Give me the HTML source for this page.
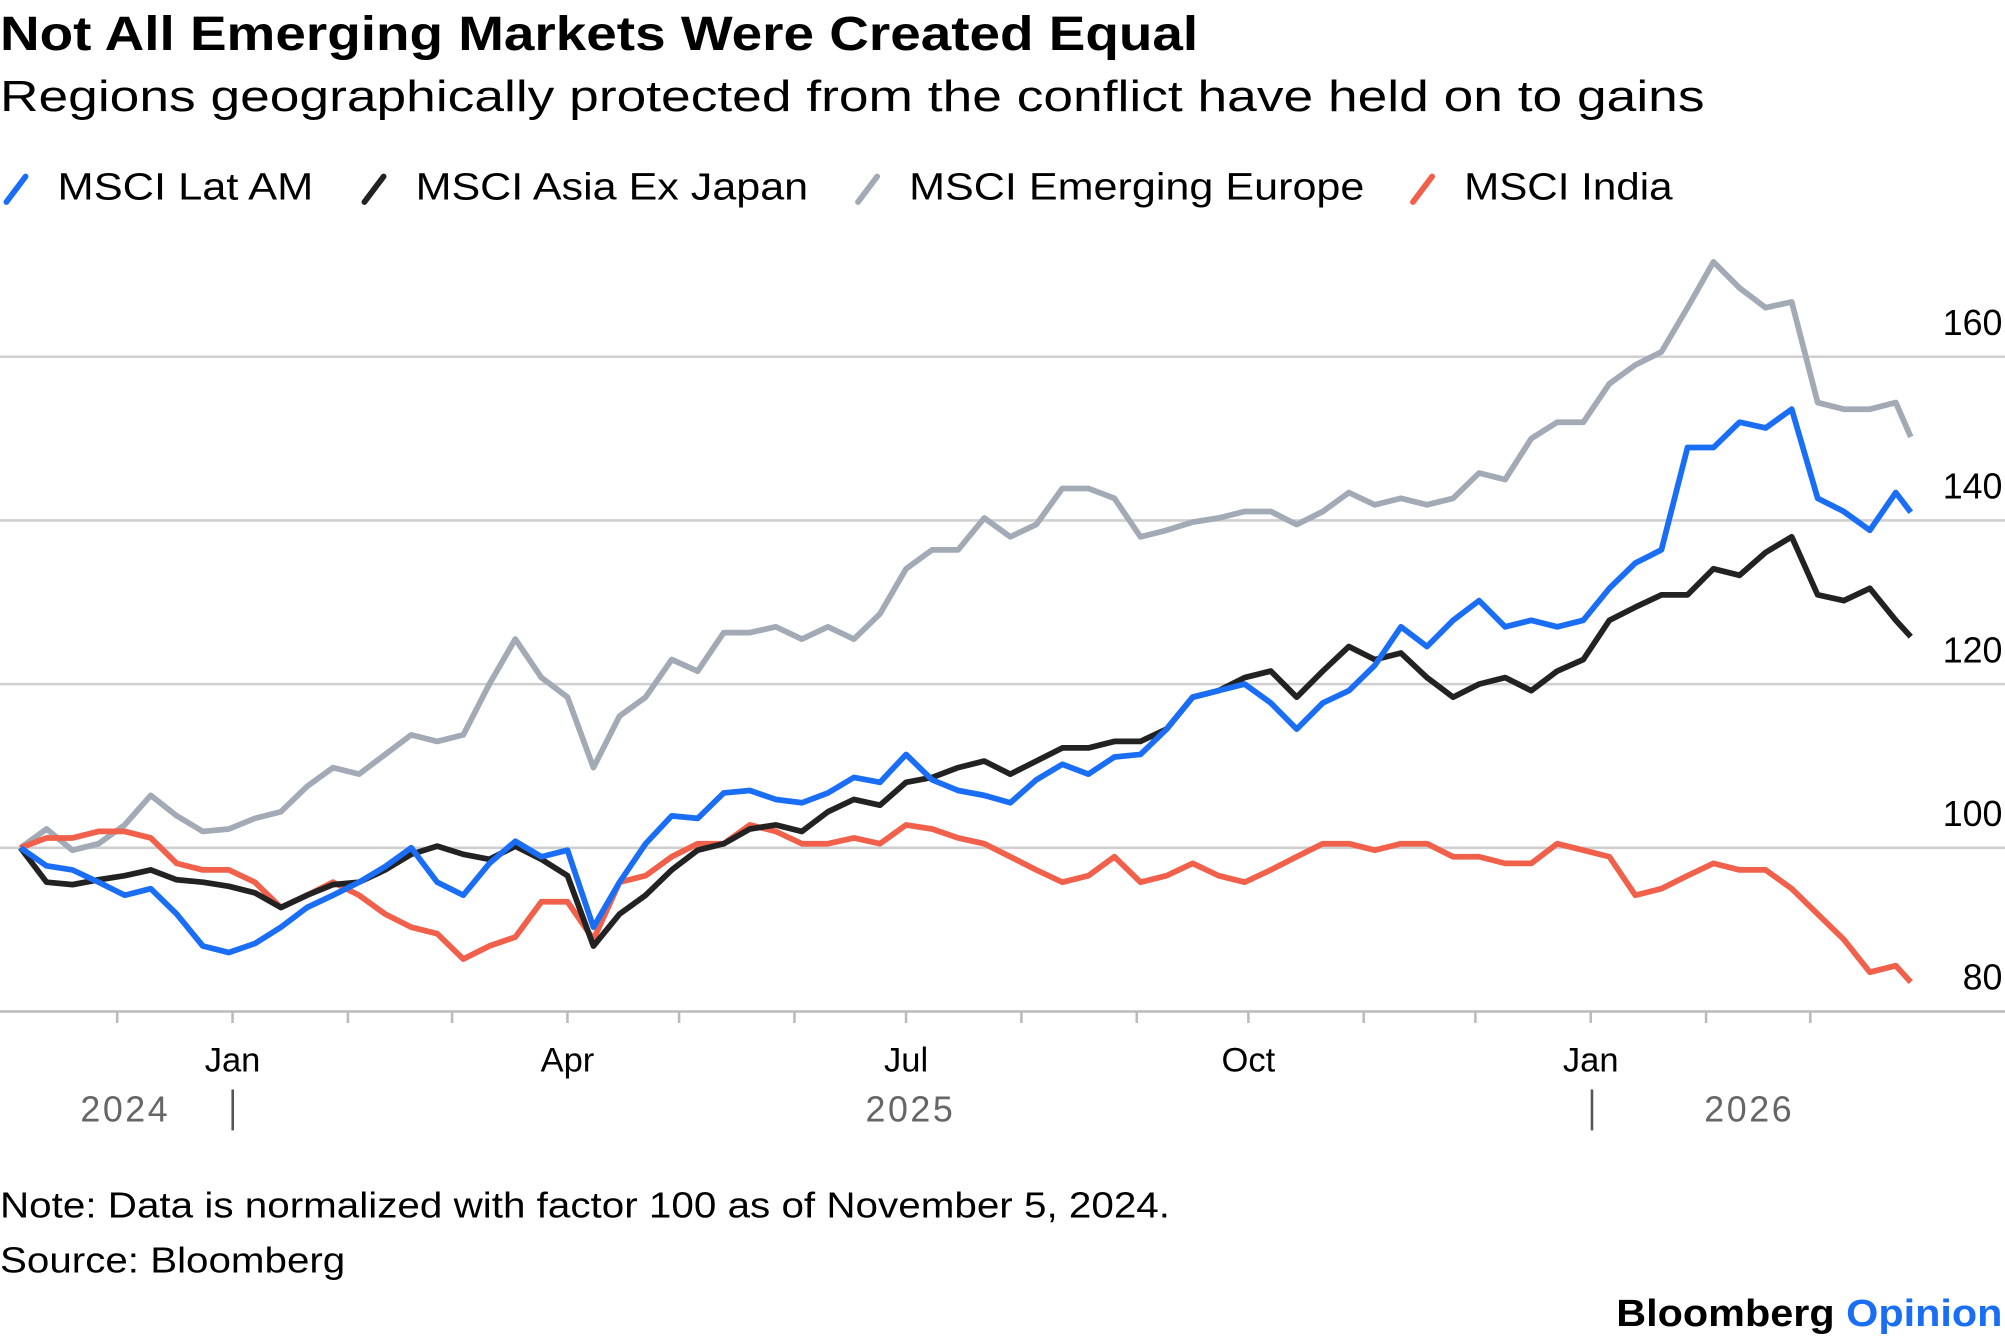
<!DOCTYPE html>
<html><head><meta charset="utf-8"><style>
html,body{margin:0;padding:0;background:#fff;}
svg{display:block;font-family:"Liberation Sans",sans-serif;}
</style></head><body>
<svg id="chart" width="2005" height="1341" viewBox="0 0 1568 1048.7" preserveAspectRatio="none">
<text x="0" y="39" font-size="38" font-weight="bold" fill="#000" textLength="937" lengthAdjust="spacingAndGlyphs">Not All Emerging Markets Were Created Equal</text>
<text x="0" y="87" font-size="34" fill="#000" textLength="1333" lengthAdjust="spacingAndGlyphs">Regions geographically protected from the conflict have held on to gains</text>
<g id="legend"></g>
<g id="grid"></g>
<g id="xaxis"></g>
<g id="series"></g>
<text x="98" y="877" font-size="28" fill="#666" text-anchor="middle" letter-spacing="2">2024</text>
<text x="712" y="877" font-size="28" fill="#666" text-anchor="middle" letter-spacing="2">2025</text>
<text x="1368" y="877" font-size="28" fill="#666" text-anchor="middle" letter-spacing="2">2026</text>
<line x1="182" y1="852" x2="182" y2="884" stroke="#555" stroke-width="2"/>
<line x1="1245" y1="852" x2="1245" y2="884" stroke="#555" stroke-width="2"/>
<text x="0" y="952" font-size="28" fill="#000" textLength="915" lengthAdjust="spacingAndGlyphs">Note: Data is normalized with factor 100 as of November 5, 2024.</text>
<text x="0" y="995" font-size="28" fill="#000" textLength="270" lengthAdjust="spacingAndGlyphs">Source: Bloomberg</text>
<text x="1264" y="1037" font-size="30" font-weight="bold" fill="#000" textLength="302" lengthAdjust="spacingAndGlyphs">Bloomberg <tspan fill="#1a6ef5">Opinion</tspan></text>
</svg>
<script>
const days = [0,7,14,21,28,35,42,49,56,63,70,77,84,91,98,105,112,119,126,133,140,147,154,161,168,175,182,189,196,203,210,217,224,231,238,245,252,259,266,273,280,287,294,301,308,315,322,329,336,343,350,357,364,371,378,385,392,399,406,413,420,427,434,441,448,455,462,469,476,483,490,497,504,508];
const latam = [100,97.8,97.3,95.8,94.2,95,91.9,88,87.2,88.3,90.3,92.7,94.2,95.8,97.7,100,95.8,94.2,98.1,100.8,98.9,99.7,90.3,95.8,100.5,103.9,103.6,106.7,107,105.9,105.5,106.7,108.6,108,111.4,108.3,107,106.4,105.5,108.3,110.2,109,111.1,111.4,114.5,118.4,119.2,120,117.7,114.5,117.7,119.2,122.3,127,124.6,127.8,130.2,127,127.8,127,127.8,131.7,134.8,136.4,148.9,148.9,152,151.3,153.6,142.7,141.1,138.8,143.4,141];
const asia = [100,95.8,95.5,96.1,96.6,97.3,96.1,95.8,95.3,94.5,92.7,94.2,95.5,95.8,97.3,99.2,100.2,99.2,98.6,100.2,98.6,96.6,88,91.9,94.2,97.3,99.7,100.5,102.3,102.8,102,104.4,105.9,105.2,108,108.6,109.8,110.6,109,110.6,112.2,112.2,113,113,114.5,118.4,119.2,120.8,121.6,118.4,121.6,124.6,123,123.8,120.8,118.4,120,120.8,119.2,121.6,123,127.8,129.4,130.9,130.9,134.1,133.3,136.1,138,130.9,130.2,131.7,127.8,125.8];
const europe = [100,102.3,99.7,100.5,102.8,106.4,103.9,102,102.3,103.6,104.4,107.5,109.8,109,111.4,113.8,113,113.8,120,125.5,120.8,118.4,109.8,116.1,118.4,123,121.6,126.3,126.3,127,125.5,127,125.5,128.6,134.1,136.4,136.4,140.3,138,139.5,143.9,143.9,142.7,138,138.8,139.8,140.3,141.1,141.1,139.5,141.1,143.4,141.9,142.7,141.9,142.7,145.8,145,150,152,152,156.7,159,160.6,166,171.6,168.4,166,166.7,154.4,153.6,153.6,154.4,150.2];
const india = [100,101.2,101.2,102,102,101.2,98.1,97.3,97.3,95.8,92.7,94.2,95.8,94.2,91.9,90.3,89.5,86.4,88,89.1,93.4,93.4,88.8,95.8,96.6,98.9,100.5,100.5,102.8,102,100.5,100.5,101.2,100.5,102.8,102.3,101.2,100.5,98.9,97.3,95.8,96.6,98.9,95.8,96.6,98.1,96.6,95.8,97.3,98.9,100.5,100.5,99.7,100.5,100.5,98.9,98.9,98.1,98.1,100.5,99.7,98.9,94.2,95,96.6,98.1,97.3,97.3,95,91.9,88.8,84.8,85.6,83.6];
const yTicks = [80,100,120,140,160];
const monthLabels = ["Jan","Apr","Jul","Oct","Jan"];
const monthLabelDays = [57,147,238,330,422];
const monthTickDays = [26,57,88,116,147,177,208,238,269,300,330,361,391,422,453,481];

const NS="http://www.w3.org/2000/svg";
function xs(d){return 16 + d*2.91;}
function ys(v){return 663 - (v-100)*6.4;}
function mk(tag,attrs,parent){const e=document.createElementNS(NS,tag);for(const k in attrs)e.setAttribute(k,attrs[k]);parent.appendChild(e);return e;}

const grid=document.getElementById('grid');
yTicks.forEach(v=>{
  if(v>80){
    const l=mk('line',{x1:0,x2:1568,y1:ys(v),y2:ys(v),stroke:'#cfcfcf','stroke-width':2},grid);
    
    
  }
  const t=mk('text',{x:1566,y:ys(v)-17,'font-size':28,'text-anchor':'end',fill:'#000'},grid);
  t.textContent=v;
  
  
});
const xa=document.getElementById('xaxis');
const axl=mk('line',{x1:0,x2:1568,y1:ys(80),y2:ys(80),stroke:'#bbb','stroke-width':2},xa);


monthTickDays.forEach(d=>{
  const t=mk('line',{x1:xs(d),x2:xs(d),y1:ys(80),y2:ys(80)+9,stroke:'#bbb','stroke-width':2},xa);
  
  
});
monthLabels.forEach((m,i)=>{
  const t=mk('text',{x:xs(monthLabelDays[i]),y:838,'font-size':27,'text-anchor':'middle',fill:'#000'},xa);
  t.textContent=m;
  
  
});
const seriesG=document.getElementById('series');
const defs=[["MSCI Emerging Europe",europe,"#a2aab5","series-emerging-europe"],["MSCI India",india,"#f0604a","series-india"],["MSCI Asia Ex Japan",asia,"#222222","series-asia-ex-japan"],["MSCI Lat AM",latam,"#1a6ef5","series-lat-am"]];
defs.forEach(s=>{
  const pts=s[1].map((v,i)=>xs(days[i]).toFixed(1)+','+ys(v).toFixed(1)).join(' ');
  const p=mk('polyline',{points:pts,fill:'none',stroke:s[2],'stroke-width':4.5,'stroke-linejoin':'round'},seriesG);
  
  
});
const lg=document.getElementById('legend');
[["MSCI Lat AM","#1a6ef5",0,200],["MSCI Asia Ex Japan","#222222",280,307],["MSCI Emerging Europe","#a2aab5",666,356],["MSCI India","#f0604a",1100,163]].forEach(e=>{
  const g=mk('g',{},lg);
  
  
  mk('line',{x1:e[2]+5,y1:158,x2:e[2]+20,y2:138,stroke:e[1],'stroke-width':4.5,'stroke-linecap':'round'},g);
  const t=mk('text',{x:e[2]+45,y:156,'font-size':30,fill:'#000',textLength:e[3],lengthAdjust:'spacingAndGlyphs'},g);
  t.textContent=e[0];
});
</script>
</body></html>
